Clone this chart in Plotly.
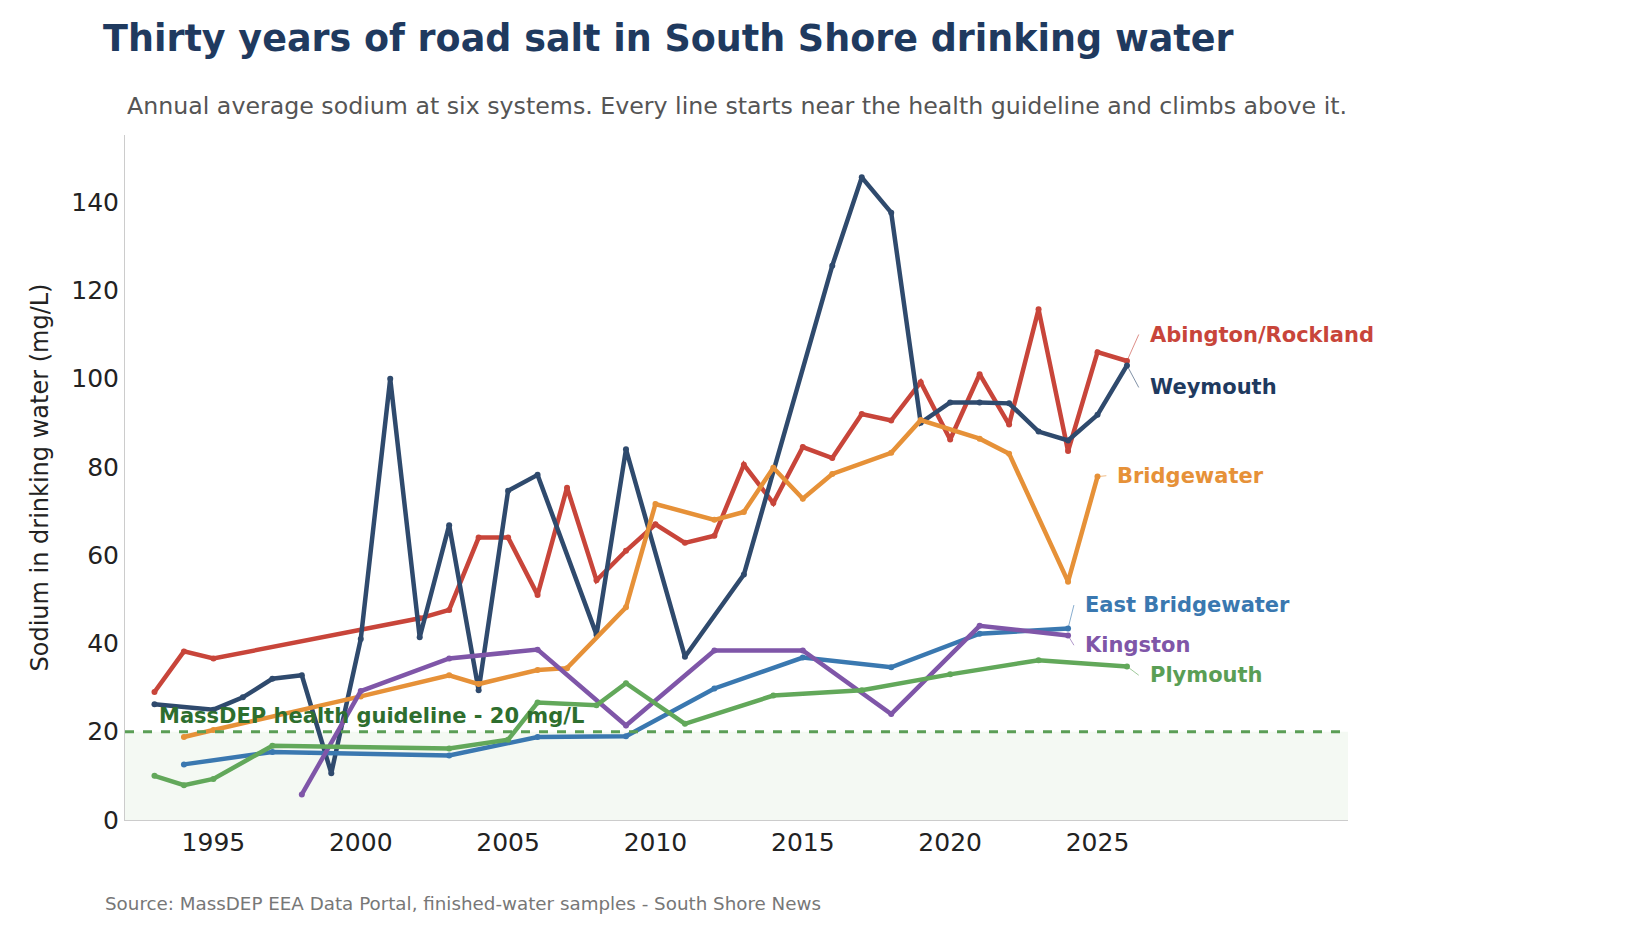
import plotly.graph_objects as go

ab_x = [1993,1994,1995,2002,2003,2004,2005,2006,2007,2008,2009,2010,2011,2012,2013,2014,2015,2016,2017,2018,2019,2020,2021,2022,2023,2024,2025,2026]
ab_y = [29,38.2,36.6,45.7,47.6,64,64,51,75.3,54.3,61,67,62.8,64.4,80.5,71.8,84.5,82,92,90.5,99.2,86.2,101,89.6,115.7,83.6,106,104]
we_x = [1993,1995,1996,1997,1998,1999,2000,2001,2002,2003,2004,2005,2006,2008,2009,2011,2013,2016,2017,2018,2019,2020,2021,2022,2023,2024,2025,2026]
we_y = [26.2,25,27.8,32,32.8,10.6,41,100,41.4,66.8,29.4,74.6,78.2,42,84,37,55.6,125.6,145.6,137.6,90,94.6,94.6,94.4,88,86,91.8,103]
br_x = [1994,1995,2000,2003,2004,2006,2007,2009,2010,2012,2013,2014,2015,2016,2018,2019,2021,2022,2024,2025]
br_y = [18.8,20.4,28,32.8,30.8,34,34.4,48.2,71.6,68,69.8,79.8,72.8,78.4,83.2,90.6,86.4,83,54,77.8]
eb_x = [1994,1997,2003,2006,2009,2012,2015,2018,2021,2024]
eb_y = [12.6,15.4,14.6,18.8,19,29.8,36.8,34.6,42.2,43.4]
ki_x = [1998,2000,2003,2006,2009,2012,2015,2018,2021,2024]
ki_y = [5.8,29.2,36.6,38.6,21.4,38.4,38.4,24,44,41.8]
pl_x = [1993,1994,1995,1997,2003,2005,2006,2008,2009,2011,2014,2017,2020,2023,2026]
pl_y = [10,7.9,9.3,16.8,16.2,18.2,26.6,26,31,21.8,28.2,29.4,33,36.2,34.8]

series = [
    ("Abington/Rockland", ab_x, ab_y, "#c8453a", 2026.7, 110),
    ("Weymouth", we_x, we_y, "#2f4a6d", 2026.7, 98),
    ("Bridgewater", br_x, br_y, "#e69138", 2025.6, 78),
    ("East Bridgewater", eb_x, eb_y, "#3a78b0", 2024.5, 48.7),
    ("Kingston", ki_x, ki_y, "#7f56a8", 2024.5, 39.6),
    ("Plymouth", pl_x, pl_y, "#62a85a", 2026.7, 32.8),
]
label_colors = {"Weymouth": "#1f3a5f", "Plymouth": "#5a9e55"}

fig = go.Figure()
fig.add_shape(type="rect", xref="paper", yref="y", x0=0, x1=1, y0=0, y1=20,
              fillcolor="rgba(98,168,90,0.07)", line_width=0, layer="below")
fig.add_shape(type="line", xref="paper", yref="y", x0=0, x1=1, y0=20, y1=20,
              line=dict(color="#5a9e55", width=3, dash="dash"))
fig.add_annotation(x=1993.1, y=20.3, text="<b>MassDEP health guideline - 20 mg/L</b>",
                   showarrow=False, xanchor="left", yanchor="bottom",
                   font=dict(size=21, color="#2e6e2e"))

for name, xs, ys, col, lx, ly in series:
    fig.add_trace(go.Scatter(x=xs, y=ys, mode="lines+markers", name=name,
                             line=dict(color=col, width=4.5), marker=dict(size=6, color=col)))
    fig.add_trace(go.Scatter(x=[xs[-1], lx - 0.3], y=[ys[-1], ly], mode="lines",
                             line=dict(color=col, width=1), opacity=0.6, hoverinfo="skip"))
    fig.add_annotation(x=lx, y=ly, text="<b>%s</b>" % name, showarrow=False,
                       xanchor="left", font=dict(size=21, color=label_colors.get(name, col)))

fig.update_layout(
    width=1632, height=951, showlegend=False, plot_bgcolor="white", paper_bgcolor="white",
    margin=dict(l=117, r=292, t=127, b=139),
    font=dict(family="DejaVu Sans"),
    title=dict(text="<b>Thirty years of road salt in South Shore drinking water</b>",
               x=95/1632, xanchor="left", y=1-30/951, yanchor="middle",
               font=dict(size=36.5, color="#1f3a5f")),
)
fig.add_annotation(xref="paper", yref="paper", x=0, y=1+(127-98)/685, xanchor="left", yanchor="middle",
                   text="Annual average sodium at six systems. Every line starts near the health guideline and climbs above it.",
                   showarrow=False, font=dict(size=23.7, color="#555555"))
fig.add_annotation(xref="paper", yref="paper", x=(95-117)/1223, y=-(895-812)/685, xanchor="left", yanchor="middle",
                   text="Source: MassDEP EEA Data Portal, finished-water samples - South Shore News",
                   showarrow=False, font=dict(size=18.3, color="#777777"))
fig.update_xaxes(range=[1992, 2033.5], tickvals=[1995,2000,2005,2010,2015,2020,2025],
                 showgrid=False, showline=True, linecolor="#cccccc", ticks="",
                 tickfont=dict(size=25, color="#222222"), zeroline=False)
fig.update_yaxes(range=[0, 155.2], tickvals=[0,20,40,60,80,100,120,140], showgrid=False,
                 showline=True, linecolor="#cccccc", zeroline=False,
                 tickfont=dict(size=25, color="#222222"),
                 title=dict(text="Sodium in drinking water (mg/L)", font=dict(size=24, color="#222222")))
fig.write_html("out.html")
